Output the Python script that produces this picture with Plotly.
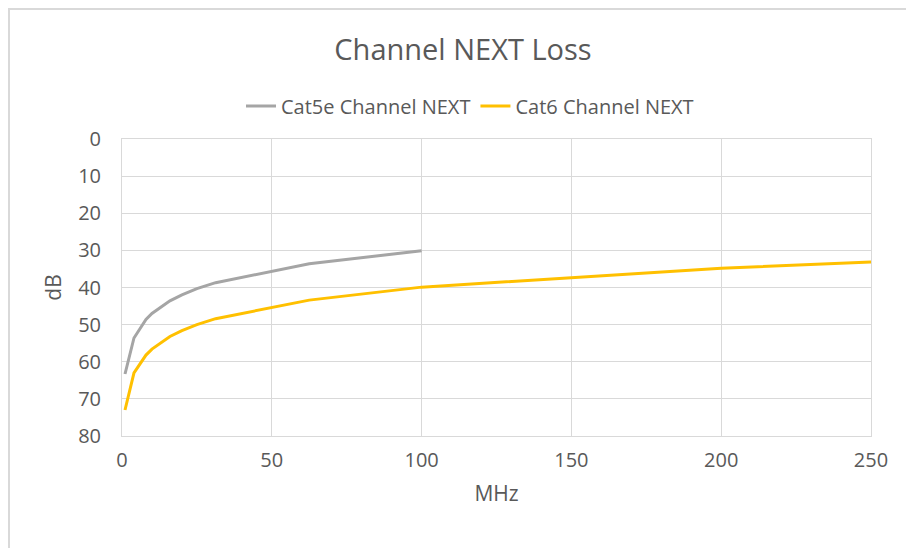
import plotly.graph_objects as go

# Frequencies (MHz) and channel NEXT limits (dB)
cat5e_mhz = [1, 4, 8, 10, 16, 20, 25, 31.25, 62.5, 100]
cat5e_db = [63.3, 53.6, 48.6, 47.0, 43.6, 42.0, 40.3, 38.7, 33.6, 30.1]

cat6_mhz = [1, 4, 8, 10, 16, 20, 25, 31.25, 62.5, 100, 200, 250]
cat6_db = [73.0, 63.0, 58.2, 56.6, 53.2, 51.6, 50.0, 48.4, 43.4, 39.9, 34.8, 33.1]

x_ticks = [0, 50, 100, 150, 200, 250]
y_ticks = [0, 10, 20, 30, 40, 50, 60, 70, 80]

GRAY = "#A5A5A5"
GOLD = "#FFC000"
TEXT = "#595959"
GRID = "#D9D9D9"
FONT = "Open Sans, Noto Sans, sans-serif"

# the page body adds an 8px margin, so work in page pixels and shift
OFF = 8
W, H = 914 - OFF, 548 - OFF
L, R, T, B = 122 - OFF, 871 - OFF, 139 - OFF, 436 - OFF


def px(x):
    return (x - OFF - L) / (R - L)


def py(y):
    return (B - (y - OFF)) / (B - T)


fig = go.Figure()

fig.add_trace(go.Scatter(
    x=cat5e_mhz, y=cat5e_db, name="Cat5e Channel NEXT",
    mode="lines", line=dict(color=GRAY, width=3),
))
fig.add_trace(go.Scatter(
    x=cat6_mhz, y=cat6_db, name="Cat6 Channel NEXT",
    mode="lines", line=dict(color=GOLD, width=3),
))

# chart area border (Excel style)
fig.add_shape(type="rect", xref="paper", yref="paper",
              x0=px(9), x1=px(960), y0=py(600), y1=py(9),
              line=dict(color=GRID, width=2), layer="below")

fig.update_layout(
    width=W, height=H,
    margin=dict(l=L, r=W - R, t=T, b=H - B),
    paper_bgcolor="white", plot_bgcolor="white",
    font=dict(family=FONT, color=TEXT, size=19),
    title=dict(text="Channel NEXT Loss", x=(463 - OFF) / W, xanchor="center",
               y=1 - (50 - OFF) / H, yanchor="middle",
               font=dict(size=29, color=TEXT, family=FONT)),
    legend=dict(orientation="h", x=px(470), xanchor="center",
                y=py(106), yanchor="middle",
                font=dict(size=20, color=TEXT)),
    showlegend=True,
)

fig.update_xaxes(
    range=[0, 250], tickvals=x_ticks, showgrid=True, gridcolor=GRID,
    gridwidth=1, zeroline=False, showline=True, linecolor=GRID,
    mirror=True, ticks="", tickfont=dict(size=20, color=TEXT),
    ticklabelstandoff=6,
    title=dict(text="MHz", font=dict(size=21, color=TEXT), standoff=14),
)
fig.update_yaxes(
    range=[80, 0], tickvals=y_ticks, showgrid=True, gridcolor=GRID,
    gridwidth=1, zeroline=False, showline=True, linecolor=GRID,
    mirror=True, ticks="", tickfont=dict(size=20, color=TEXT),
    ticklabelstandoff=16,
    title=dict(text="dB", font=dict(size=21, color=TEXT), standoff=10),
)

fig.write_html("out.html")
